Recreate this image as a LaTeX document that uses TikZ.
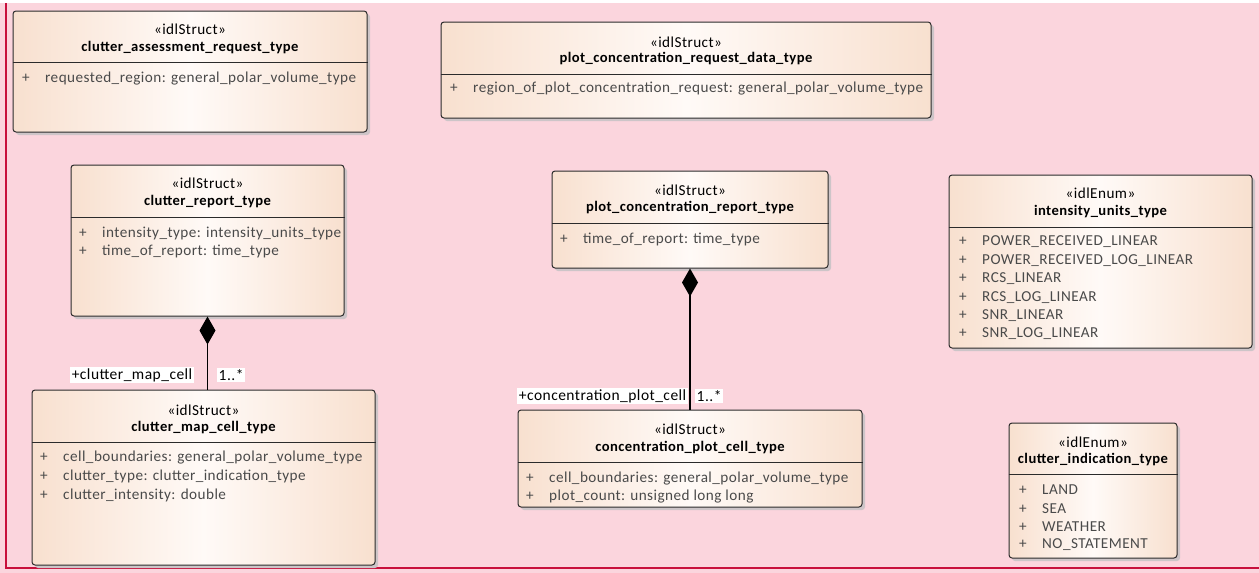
\documentclass[tikz,border=0pt]{standalone}
\usepackage{fontspec}
\setmainfont{Carlito}[LetterSpace=3]
\usepackage{xcolor}
\usepackage{tikz}
\usetikzlibrary{arrows.meta,shadows}
\definecolor{DgPink}{HTML}{FBD5DD}
\definecolor{DgFrame}{HTML}{C8103C}
\definecolor{DgEdge}{HTML}{F8E0CF}
\definecolor{DgMid}{HTML}{FFFAF7}
\definecolor{DgLine}{HTML}{2B2B2B}
\definecolor{DgAttr}{HTML}{4A4A4A}
\definecolor{DgShadow}{HTML}{CDC5C8}

\tikzset{
  umlbox/.style={draw=DgLine, line width=1pt, rounded corners=3pt, inner sep=0pt,
    left color=DgEdge, right color=DgEdge, middle color=DgMid,
    drop shadow={shadow xshift=3pt, shadow yshift=-3pt, fill=DgShadow, opacity=1}},
  stereo/.style={font=\fontsize{15.2}{17}\selectfont, inner sep=0pt},
  clsname/.style={font=\bfseries\fontsize{14.6}{17}\selectfont, inner sep=0pt},
  attr/.style={anchor=west, text=DgAttr, font=\fontsize{15.2}{17}\selectfont, inner sep=0pt},
  role/.style={fill=white, inner sep=1.5pt, font=\fontsize{15.5}{17}\selectfont},
  comp/.style={draw=black, line width=1.3pt, {Diamond[length=28pt,width=16pt]}-}
}
\newcommand{\attrline}[1]{\makebox[23pt][l]{+}#1}

\begin{document}
\begin{tikzpicture}[x=1pt,y=-1pt]
\path[use as bounding box] (0,0) rectangle (1259,573);
\fill[DgPink] (0,0) rectangle (1259,573);
\fill[white] (0,0) rectangle (1259,3);
\draw[DgFrame, line width=1.5pt] (6,3) -- (6,568) -- (1259,568);

\node[umlbox, minimum width=354pt, minimum height=121pt] (car) at (190,71.5) {};
\draw[DgLine] (car.west |- 0,62) -- (car.east |- 0,62);
\node[stereo] (car-st) at (190,29) {«idlStruct»};
\node[clsname] (car-nm) at (190,48) {clutter\_assessment\_request\_type};
\node[attr] (car-a1) at (22,79) {\attrline{requested\_region: general\_polar\_volume\_type}};

\node[umlbox, minimum width=490pt, minimum height=96pt] (pcr) at (686,70) {};
\draw[DgLine] (pcr.west |- 0,74) -- (pcr.east |- 0,74);
\node[stereo] (pcr-st) at (686,42) {«idlStruct»};
\node[clsname] (pcr-nm) at (686,59) {plot\_concentration\_request\_data\_type};
\node[attr] (pcr-a1) at (450,89) {\attrline{region\_of\_plot\_concentration\_request: general\_polar\_volume\_type}};

\node[umlbox, minimum width=273pt, minimum height=151pt] (crt) at (207.5,240.5) {};
\draw[DgLine] (crt.west |- 0,217) -- (crt.east |- 0,217);
\node[stereo] (crt-st) at (207.5,183) {«idlStruct»};
\node[clsname] (crt-nm) at (207.5,202) {clutter\_report\_type};
\node[attr] (crt-a1) at (79,233) {\attrline{intensity\_type: intensity\_units\_type}};
\node[attr] (crt-a2) at (79,251) {\attrline{time\_of\_report: time\_type}};

\node[umlbox, minimum width=343pt, minimum height=175pt] (cmc) at (203.5,477.5) {};
\draw[DgLine] (cmc.west |- 0,442) -- (cmc.east |- 0,442);
\node[stereo] (cmc-st) at (203.5,410) {«idlStruct»};
\node[clsname] (cmc-nm) at (203.5,428) {clutter\_map\_cell\_type};
\node[attr] (cmc-a1) at (40,458) {\attrline{cell\_boundaries: general\_polar\_volume\_type}};
\node[attr] (cmc-a2) at (40,476) {\attrline{clutter\_type: clutter\_indication\_type}};
\node[attr] (cmc-a3) at (40,495) {\attrline{clutter\_intensity: double}};

\node[umlbox, minimum width=276pt, minimum height=97pt] (pcrt) at (690,219.5) {};
\draw[DgLine] (pcrt.west |- 0,223) -- (pcrt.east |- 0,223);
\node[stereo] (pcrt-st) at (690,190) {«idlStruct»};
\node[clsname] (pcrt-nm) at (690,208) {plot\_concentration\_report\_type};
\node[attr] (pcrt-a1) at (560,239) {\attrline{time\_of\_report: time\_type}};

\node[umlbox, minimum width=344pt, minimum height=97pt] (cpc) at (690,458.5) {};
\draw[DgLine] (cpc.west |- 0,462) -- (cpc.east |- 0,462);
\node[stereo] (cpc-st) at (690,429) {«idlStruct»};
\node[clsname] (cpc-nm) at (690,448) {concentration\_plot\_cell\_type};
\node[attr] (cpc-a1) at (526,479) {\attrline{cell\_boundaries: general\_polar\_volume\_type}};
\node[attr] (cpc-a2) at (526,497) {\attrline{plot\_count: unsigned long long}};

\node[umlbox, minimum width=303pt, minimum height=173pt] (iut) at (1100.5,261.5) {};
\draw[DgLine] (iut.west |- 0,227) -- (iut.east |- 0,227);
\node[stereo] (iut-st) at (1100.5,193) {«idlEnum»};
\node[clsname] (iut-nm) at (1100.5,212) {intensity\_units\_type};
\foreach \lit [count=\i] in {POWER\_RECEIVED\_LINEAR, POWER\_RECEIVED\_LOG\_LINEAR, RCS\_LINEAR, RCS\_LOG\_LINEAR, SNR\_LINEAR, SNR\_LOG\_LINEAR}
  \node[attr] (iut-a\i) at (959,223.6+18.4*\i) {\attrline{\lit}};

\node[umlbox, minimum width=168pt, minimum height=135pt] (cit) at (1093,490.5) {};
\draw[DgLine] (cit.west |- 0,474) -- (cit.east |- 0,474);
\node[stereo] (cit-st) at (1093,442) {«idlEnum»};
\node[clsname] (cit-nm) at (1093,460) {clutter\_indication\_type};
\foreach \lit [count=\i] in {LAND, SEA, WEATHER, NO\_STATEMENT}
  \node[attr] (cit-a\i) at (1019,471.7+18.3*\i) {\attrline{\lit}};

\draw[comp] (crt.south) -- (crt.south |- cmc.north);
\node[role, anchor=east] (crt-role) at (194,375) {+clutter\_map\_cell};
\node[role, anchor=west] (crt-mult) at (217,375) {1..*};

\draw[comp] (pcrt.south) -- (pcrt.south |- cpc.north);
\node[role, anchor=east] (pcrt-role) at (688,396) {+concentration\_plot\_cell};
\node[role, anchor=west] (pcrt-mult) at (695,396) {1..*};
\end{tikzpicture}
\end{document}
